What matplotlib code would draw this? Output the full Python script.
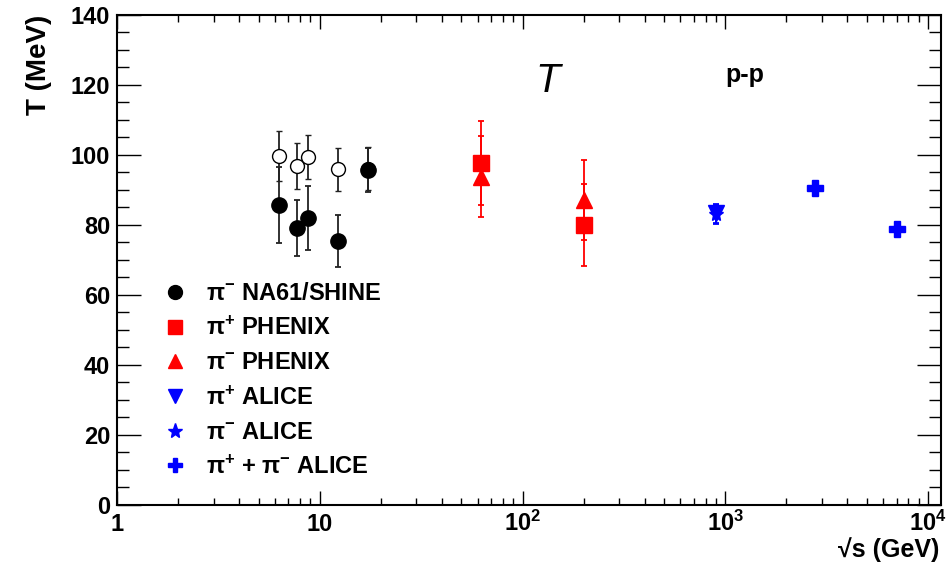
import numpy as np
import matplotlib
matplotlib.use("Agg")
import matplotlib.pyplot as plt
from matplotlib.lines import Line2D
from matplotlib.ticker import FixedLocator, NullFormatter

plt.rcParams["font.family"] = ["Liberation Sans", "DejaVu Sans"]

# NA61/SHINE pi- (filled circles) and the open-circle companion points
na61_sqrts = [6.3, 7.7, 8.8, 12.3, 17.3]
na61_T = [85.6, 79.1, 82.0, 75.4, 95.7]
na61_err = [10.8, 7.9, 9.1, 7.4, 6.3]
na61_open_T = [99.6, 96.8, 99.3, 95.8, 96.0]
na61_open_err = [7.2, 6.6, 6.3, 6.2, 6.2]

# PHENIX
phenix_sqrts = [62.4, 200.0]
phenix_pip_T = [97.6, 79.9]
phenix_pip_err = [11.9, 11.8]
phenix_pim_T = [93.7, 87.0]
phenix_pim_err = [11.6, 11.4]

# ALICE
alice_sqrts = [900.0]
alice_pip_T = [83.3]
alice_pip_err = [2.7]
alice_pim_T = [83.0]
alice_pim_err = [2.7]
alice_sum_sqrts = [2760.0, 7000.0]
alice_sum_T = [90.5, 78.7]
alice_sum_err = [1.0, 1.0]

x_ticks = [1, 10, 100, 1000, 10000]
x_ticklabels = ["1", "10", r"$\mathregular{10^{2}}$", r"$\mathregular{10^{3}}$", r"$\mathregular{10^{4}}$"]

fig = plt.figure(figsize=(9.47, 5.72), dpi=100)
ax = fig.add_axes([117 / 947, 1 - 505 / 572, 824 / 947, 490.5 / 572])

eb = dict(capsize=2.5, elinewidth=1.3, capthick=1.3, linestyle="none")

# open circles (drawn first, under the filled ones)
ax.errorbar(na61_sqrts, na61_open_T, yerr=na61_open_err, marker="o", ms=10,
            mfc="white", mec="black", mew=1.0, color="black", ecolor="#222222", **eb)
ax.errorbar(na61_sqrts, na61_T, yerr=na61_err, marker="o", ms=11,
            color="black", ecolor="#222222", **eb)

ax.errorbar(phenix_sqrts, phenix_pim_T, yerr=phenix_pim_err, marker="^", ms=11,
            color="red", **eb)
ax.errorbar(phenix_sqrts, phenix_pip_T, yerr=phenix_pip_err, marker="s", ms=11,
            color="red", **eb)

ax.errorbar(alice_sqrts, alice_pim_T, yerr=alice_pim_err, marker="*", ms=11,
            color="blue", **eb)
ax.errorbar(alice_sqrts, alice_pip_T, yerr=alice_pip_err, marker="v", ms=11,
            color="blue", **eb)
ax.errorbar(alice_sum_sqrts, alice_sum_T, yerr=alice_sum_err, marker="P", ms=12,
            color="blue", **eb)

ax.set_xscale("log")
ax.set_xlim(1, 11590)
ax.set_ylim(0, 140)

ax.xaxis.set_major_locator(FixedLocator(x_ticks))
ax.set_xticklabels(x_ticklabels, fontsize=17, fontweight="bold", va="baseline")
ax.xaxis.set_minor_locator(FixedLocator([m * 10 ** d for d in range(4) for m in range(2, 10)] + [20000]))
ax.xaxis.set_minor_formatter(NullFormatter())

ax.set_yticks(np.arange(0, 141, 20))
ax.set_yticks(np.arange(0, 141, 5), minor=True)
for lab in ax.get_yticklabels():
    lab.set_fontsize(17)
    lab.set_fontweight("bold")

ax.tick_params(which="both", direction="in", top=True, right=True, width=1.0)
ax.tick_params(axis="x", which="major", length=10, pad=19)
ax.tick_params(axis="x", which="minor", length=5)
ax.tick_params(axis="y", which="major", length=17, pad=5)
ax.tick_params(axis="y", which="minor", length=8.5)
for sp in ax.spines.values():
    sp.set_linewidth(1.5)

ax.set_ylabel("T (MeV)", fontsize=20, fontweight="bold", loc="top")
ax.yaxis.set_label_coords(-0.079, 1.0)
ax.set_xlabel("\u221as (GeV)", fontsize=18, fontweight="bold", loc="right")
ax.xaxis.set_label_coords(0.998, -0.065)

ax.text(133.6, 117.8, "T", fontsize=29, style="italic", ha="center", va="baseline")
ax.text(1251, 120.7, "p-p", fontsize=18, fontweight="bold", ha="center", va="baseline")

handles = [
    Line2D([], [], marker="o", color="black", ls="none", ms=10),
    Line2D([], [], marker="s", color="red", ls="none", ms=10),
    Line2D([], [], marker="^", color="red", ls="none", ms=10),
    Line2D([], [], marker="v", color="blue", ls="none", ms=10),
    Line2D([], [], marker="*", color="blue", ls="none", ms=11),
    Line2D([], [], marker="P", color="blue", ls="none", ms=10),
]
labels = [
    "\u03c0$\\mathregular{^{-}}$ NA61/SHINE",
    "\u03c0$\\mathregular{^{+}}$ PHENIX",
    "\u03c0$\\mathregular{^{-}}$ PHENIX",
    "\u03c0$\\mathregular{^{+}}$ ALICE",
    "\u03c0$\\mathregular{^{-}}$ ALICE",
    "\u03c0$\\mathregular{^{+}}$ + \u03c0$\\mathregular{^{-}}$ ALICE",
]
ax.legend(handles, labels, loc="upper left", bbox_to_anchor=((166 - 117) / 824, 1 - (282 - 14.5) / 490.5),
          frameon=False, prop=dict(size=17, weight="bold"), handlelength=0.8, handletextpad=0.9,
          labelspacing=0.49, borderpad=0, borderaxespad=0)

fig.savefig("out.png", dpi=100)
